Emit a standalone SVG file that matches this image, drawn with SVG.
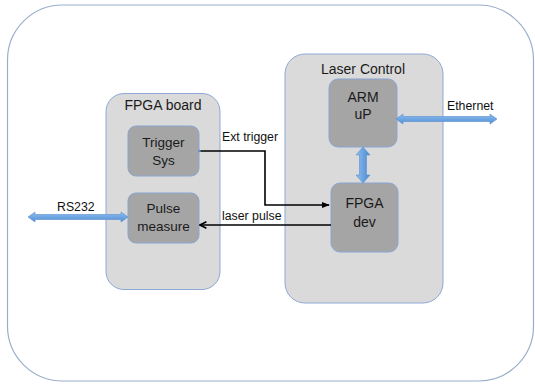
<svg xmlns="http://www.w3.org/2000/svg" width="535" height="386" viewBox="0 0 535 386">
<style>
.frame{fill:#ffffff;stroke:#9aaecb;stroke-width:1.2}
.cont{fill:#dadada;stroke:#8ea9d6;stroke-width:1}
.node{fill:#a5a5a5;stroke:#8aa6d4;stroke-width:1}
.t14{font-family:"Liberation Sans",Arial,sans-serif;font-size:14px;fill:#1a1a1a;text-anchor:middle}
.t13{font-family:"Liberation Sans",Arial,sans-serif;font-size:13.5px;fill:#1a1a1a;text-anchor:middle}
.lbl{font-family:"Liberation Sans",Arial,sans-serif;font-size:12.3px;fill:#111}
.wire{fill:none;stroke:#000;stroke-width:1.6}
.wide{fill:url(#blueH);stroke:#5b8fcf;stroke-width:0.6}
.wideV{fill:url(#blueV);stroke:#5b8fcf;stroke-width:0.6}
</style>
<defs>
<linearGradient id="blueH" x1="0" y1="0" x2="0" y2="1">
<stop offset="0" stop-color="#8fbdee"/>
<stop offset="1" stop-color="#4f8fd6"/>
</linearGradient>
<linearGradient id="blueV" x1="0" y1="0" x2="1" y2="0">
<stop offset="0" stop-color="#8fbdee"/>
<stop offset="1" stop-color="#4a89d2"/>
</linearGradient>
<marker id="ah" viewBox="0 0 10 10" refX="9" refY="5" markerWidth="5" markerHeight="5" orient="auto" markerUnits="strokeWidth">
<path d="M0,1 L10,5 L0,9 z" fill="#000"/>
</marker>
<marker id="ao" viewBox="0 0 10 10" refX="9" refY="5" markerWidth="5" markerHeight="5" orient="auto" markerUnits="strokeWidth">
<path d="M1,1 L9,5 L1,9" fill="none" stroke="#000" stroke-width="2"/>
</marker>
</defs>
<rect class="frame" x="7.5" y="5" width="526" height="376" rx="55" ry="55"/>

<g id="fpga-board">
<rect class="cont" x="106" y="93.5" width="114" height="196" rx="18"/>
<text class="t14" x="163" y="110">FPGA board</text>
</g>
<g id="trigger-sys">
<rect class="node" x="128" y="126" width="71" height="50" rx="8"/>
<text class="t13" x="163.5" y="147">Trigger</text>
<text class="t13" x="163.5" y="165">Sys</text>
</g>
<g id="pulse-measure">
<rect class="node" x="128" y="193" width="71" height="50" rx="8"/>
<text class="t13" x="163.5" y="213">Pulse</text>
<text class="t13" x="163.5" y="231">measure</text>
</g>

<g id="laser-control">
<rect class="cont" x="285" y="54" width="158" height="249" rx="20"/>
<text class="t14" x="363" y="74">Laser Control</text>
</g>
<g id="arm-up">
<rect class="node" x="329" y="79" width="68" height="68" rx="9"/>
<text class="t14" x="363" y="102">ARM</text>
<text class="t14" x="363" y="119">uP</text>
</g>
<g id="fpga-dev">
<rect class="node" x="331" y="183" width="67" height="69" rx="9"/>
<text class="t14" x="364.5" y="208">FPGA</text>
<text class="t14" x="364.5" y="227">dev</text>
</g>

<g id="connectors">
<polygon class="wide" points="396,119 403,114 403,116.5 490,116.5 490,114 497,119 490,124 490,121.5 403,121.5 403,124"/>
<polygon class="wide" points="28,217 35,212 35,214.5 121,214.5 121,212 128,217 121,222 121,219.5 35,219.5 35,222"/>
<polygon class="wideV" points="363,147 370,155 366.5,155 366.5,175 370,175 363,183 356,175 359.5,175 359.5,155 356,155"/>
<path class="wire" d="M199,151 H265 V205 H329" marker-end="url(#ah)"/>
<circle cx="199.5" cy="151" r="1.3" fill="#5b8fcf"/>
<path class="wire" d="M331,225 H200" marker-end="url(#ao)"/>
<text class="lbl" x="222" y="141">Ext trigger</text>
<text class="lbl" x="222" y="220">laser pulse</text>
<text class="lbl" x="447" y="110">Ethernet</text>
<text class="lbl" x="57" y="211">RS232</text>
</g>
</svg>
